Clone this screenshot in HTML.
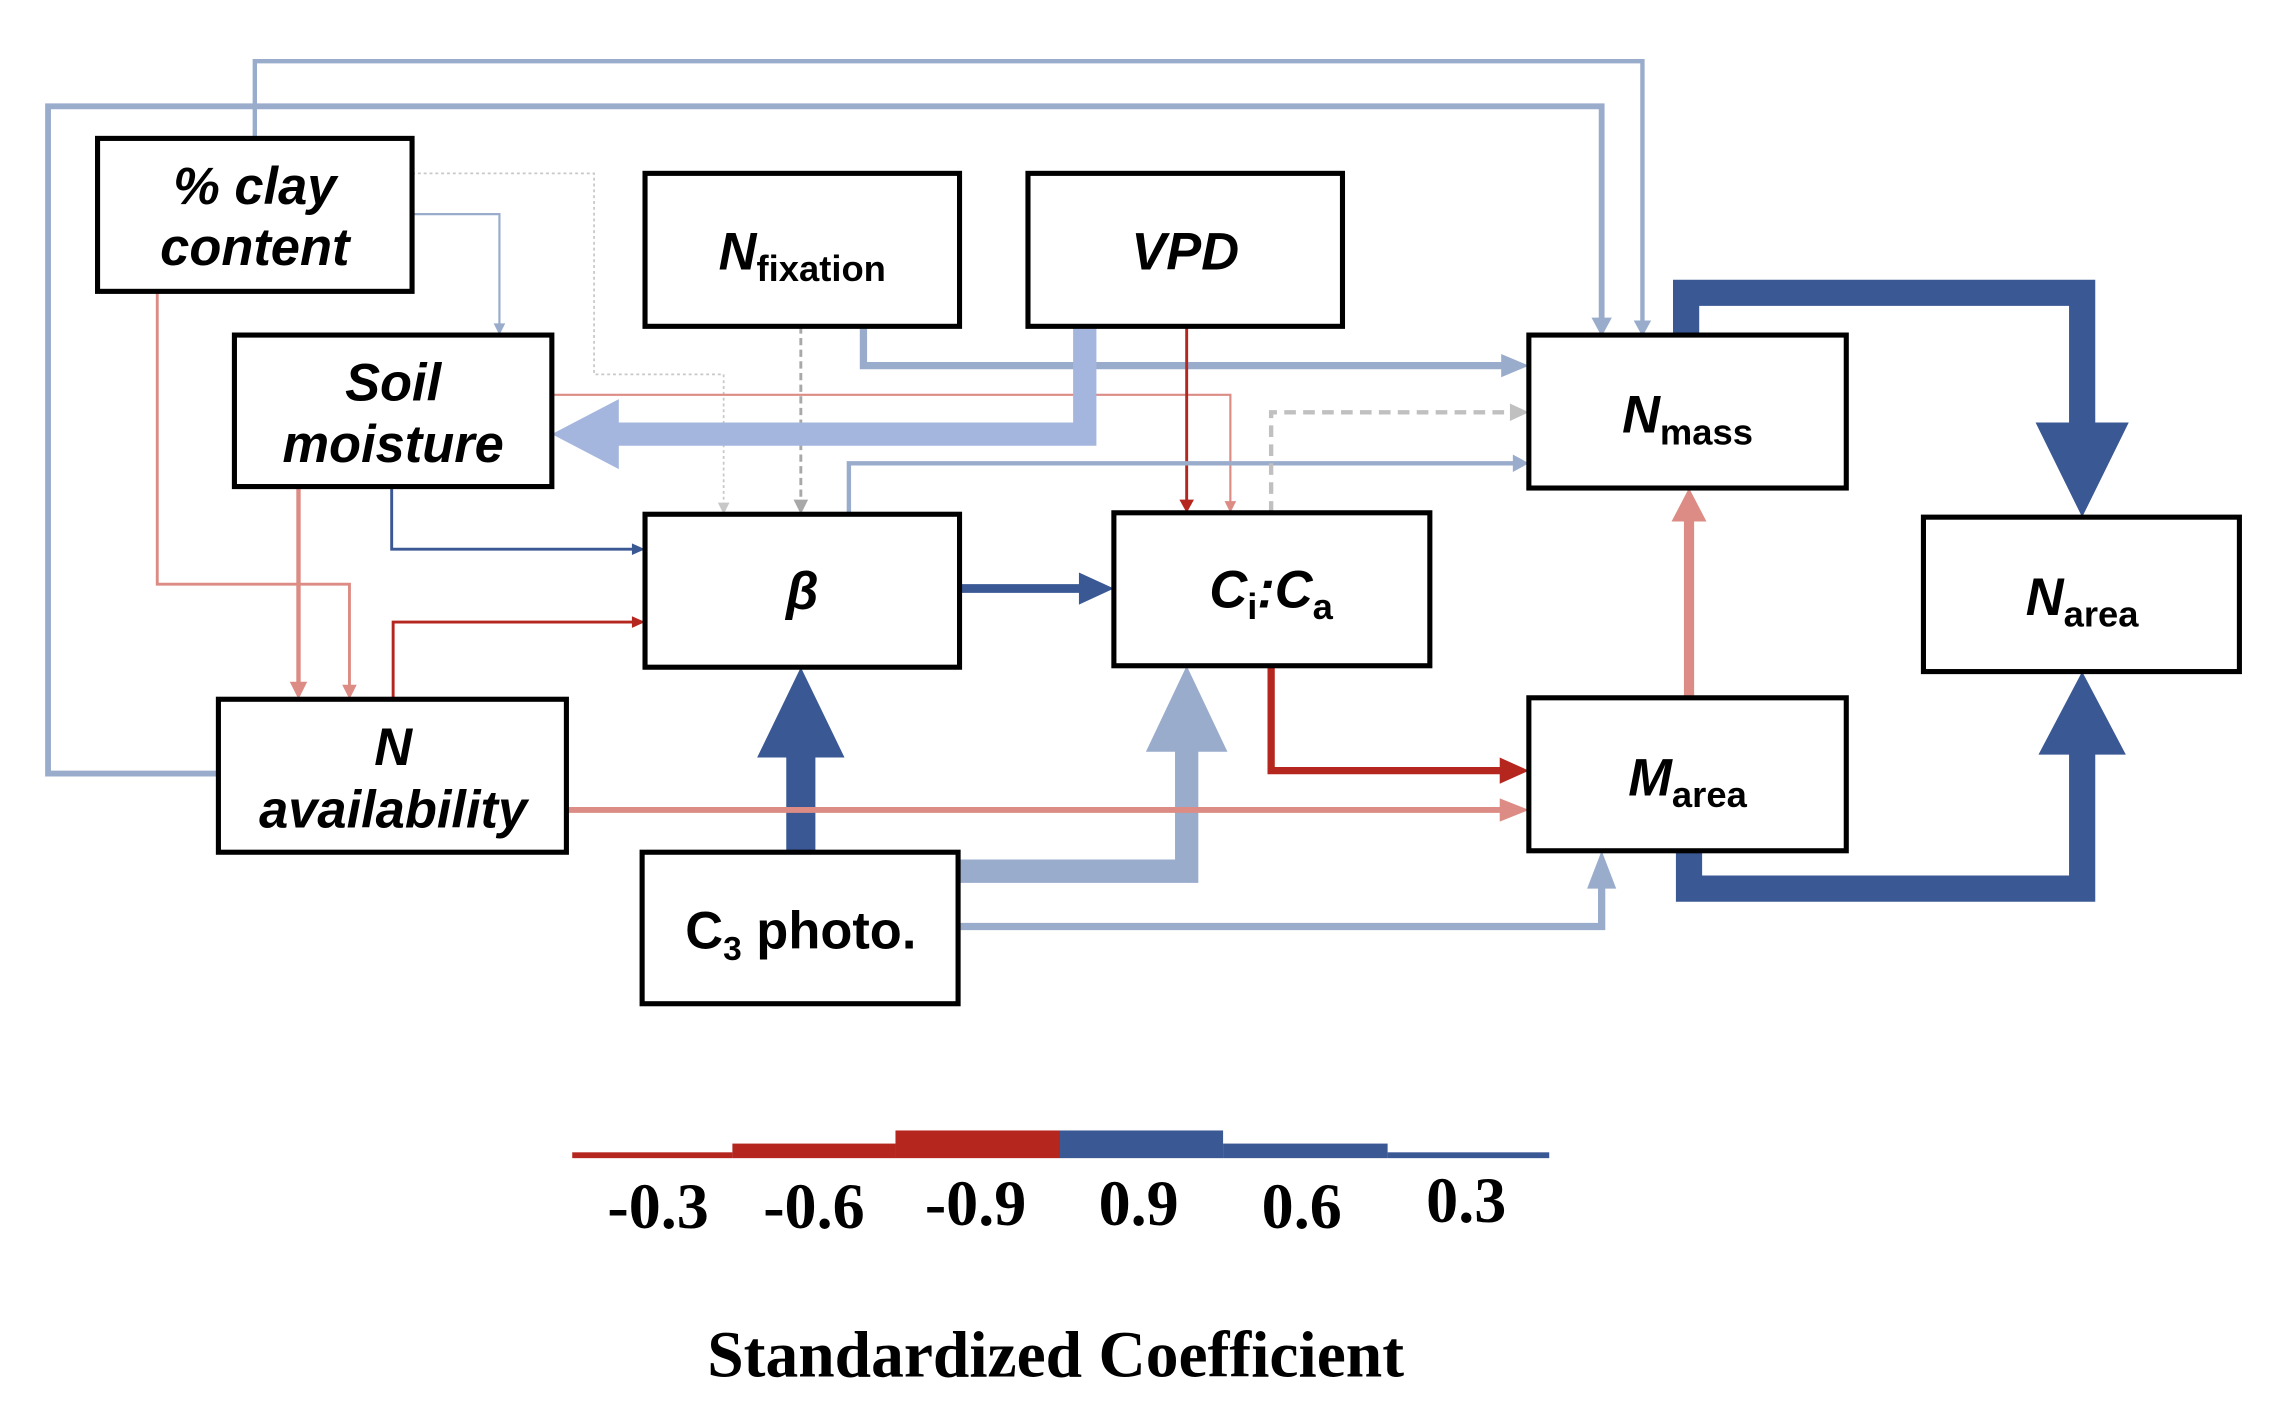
<!DOCTYPE html>
<html><head><meta charset="utf-8"><style>
html,body{margin:0;padding:0;background:#fff;}
svg{display:block;}
.bx{fill:#fff;stroke:#000;stroke-width:3.5;}
.t{font-family:"Liberation Sans",sans-serif;font-weight:bold;font-style:italic;font-size:36px;text-anchor:middle;fill:#000;}
.u{font-style:normal;font-size:25px;}
.s{font-family:"Liberation Serif",serif;font-weight:bold;font-size:44px;text-anchor:middle;fill:#000;}
</style></head><body>
<svg width="2286" height="1416" viewBox="0 0 1570 972" preserveAspectRatio="none" xmlns="http://www.w3.org/2000/svg">
<g fill="none" stroke-linejoin="miter">
<polyline points="175,95 175,42 1128,42 1128,222" stroke="#9aaccc" stroke-width="3"/>
<polygon points="1122,220 1134,220 1128,231" fill="#9aaccc" stroke="none"/>
<polyline points="150,531 33,531 33,73 1100,73 1100,220" stroke="#9aaccc" stroke-width="4"/>
<polygon points="1093,218 1107,218 1100,231" fill="#9aaccc" stroke="none"/>
<polyline points="283,147 343,147 343,224" stroke="#9aaccc" stroke-width="1.5"/>
<polygon points="339,222 347,222 343,230" fill="#9aaccc" stroke="none"/>
<polyline points="283,119 408,119 408,257 497,257 497,346" stroke="#c8c8c8" stroke-width="1.2" stroke-dasharray="2,2"/>
<polygon points="493,345 501,345 497,353" fill="#c8c8c8" stroke="none"/>
<polyline points="108,200 108,401 240,401 240,472" stroke="#dc8c84" stroke-width="2"/>
<polygon points="235,470 245,470 240,480" fill="#dc8c84" stroke="none"/>
<polyline points="205,334 205,470" stroke="#dc8c84" stroke-width="3"/>
<polygon points="199,468 211,468 205,480" fill="#dc8c84" stroke="none"/>
<polyline points="379,271 845,271 845,345" stroke="#dc8c84" stroke-width="1.5"/>
<polygon points="841,344 849,344 845,352" fill="#dc8c84" stroke="none"/>
<polyline points="269,334 269,377 435,377" stroke="#3a5894" stroke-width="2"/>
<polygon points="434,373 434,381 443,377" fill="#3a5894" stroke="none"/>
<polyline points="270,480 270,427 435,427" stroke="#b5261e" stroke-width="2"/>
<polygon points="434,423 434,431 443,427" fill="#b5261e" stroke="none"/>
<polyline points="550,224 550,344" stroke="#a8a8a8" stroke-width="2" stroke-dasharray="5,3"/>
<polygon points="545,343 555,343 550,353" fill="#a8a8a8" stroke="none"/>
<polyline points="593,224 593,251 1033,251" stroke="#9aaccc" stroke-width="5"/>
<polygon points="1031,243 1031,259 1050,251" fill="#9aaccc" stroke="none"/>
<polyline points="745,224 745,298 420,298" stroke="#a5b6de" stroke-width="16"/>
<polygon points="425,274 425,322 379,298" fill="#a5b6de" stroke="none"/>
<polyline points="815,224 815,344" stroke="#b5261e" stroke-width="2"/>
<polygon points="810,343 820,343 815,352" fill="#b5261e" stroke="none"/>
<polyline points="583,353 583,318 1040,318" stroke="#9aaccc" stroke-width="3"/>
<polygon points="1039,312 1039,324 1050,318" fill="#9aaccc" stroke="none"/>
<polyline points="873,352 873,283 1038,283" stroke="#c0c0c0" stroke-width="3" stroke-dasharray="8,5"/>
<polygon points="1037,277 1037,289 1050,283" fill="#c0c0c0" stroke="none"/>
<polyline points="659,404 745,404" stroke="#3a5894" stroke-width="6"/>
<polygon points="741,393 741,415 765,404" fill="#3a5894" stroke="none"/>
<polyline points="550,585 550,515" stroke="#3a5894" stroke-width="20"/>
<polygon points="520,520 580,520 550,458" fill="#3a5894" stroke="none"/>
<polyline points="658,598 815,598 815,510" stroke="#9aaccc" stroke-width="16"/>
<polygon points="787,516 843,516 815,457" fill="#9aaccc" stroke="none"/>
<polyline points="658,636 1100,636 1100,605" stroke="#9aaccc" stroke-width="5"/>
<polygon points="1090,610 1110,610 1100,584" fill="#9aaccc" stroke="none"/>
<polyline points="873,457 873,529 1032,529" stroke="#b5261e" stroke-width="5"/>
<polygon points="1030,520 1030,538 1050,529" fill="#b5261e" stroke="none"/>
<polyline points="389,556 1032,556" stroke="#dc8c84" stroke-width="4"/>
<polygon points="1030,548 1030,564 1050,556" fill="#dc8c84" stroke="none"/>
<polyline points="1160,479 1160,355" stroke="#dc8c84" stroke-width="7"/>
<polygon points="1148,358 1172,358 1160,335" fill="#dc8c84" stroke="none"/>
<polyline points="1158,230 1158,201 1430,201 1430,292" stroke="#3a5894" stroke-width="18"/>
<polygon points="1398,290 1462,290 1430,355" fill="#3a5894" stroke="none"/>
<polyline points="1160,584 1160,610 1430,610 1430,512" stroke="#3a5894" stroke-width="18"/>
<polygon points="1400,518 1460,518 1430,461" fill="#3a5894" stroke="none"/>
</g>
<rect class="bx" x="67" y="95" width="216" height="105"/>
<rect class="bx" x="161" y="230" width="218" height="104"/>
<rect class="bx" x="443" y="119" width="216" height="105"/>
<rect class="bx" x="706" y="119" width="216" height="105"/>
<rect class="bx" x="1050" y="230" width="218" height="105"/>
<rect class="bx" x="443" y="353" width="216" height="105"/>
<rect class="bx" x="765" y="352" width="217" height="105"/>
<rect class="bx" x="1321" y="355" width="217" height="106"/>
<rect class="bx" x="150" y="480" width="239" height="105"/>
<rect class="bx" x="1050" y="479" width="218" height="105"/>
<rect class="bx" x="441" y="585" width="217" height="104"/>
<text class="t" x="175" y="140">% clay</text>
<text class="t" x="175" y="182">content</text>
<text class="t" x="270" y="275">Soil</text>
<text class="t" x="270" y="317">moisture</text>
<text class="t" x="551" y="185">N<tspan class="u" dy="8">fixation</tspan></text>
<text class="t" x="814" y="185">VPD</text>
<text class="t" x="1159" y="297">N<tspan class="u" dy="8">mass</tspan></text>
<text class="t" x="551" y="418">β</text>
<text class="t" x="873" y="417">C<tspan class="u" dy="8">i</tspan><tspan dy="-8">:C</tspan><tspan class="u" dy="8">a</tspan></text>
<text class="t" x="1430" y="422">N<tspan class="u" dy="8">area</tspan></text>
<text class="t" x="270" y="525">N</text>
<text class="t" x="270" y="568">availability</text>
<text class="t" x="1159" y="546">M<tspan class="u" dy="8">area</tspan></text>
<text class="t" x="550" y="651" style="font-style:normal">C<tspan style="font-size:23px" dy="8">3</tspan><tspan dy="-8"> photo.</tspan></text>
<rect x="393" y="791" width="110" height="4" fill="#b5261e"/>
<rect x="503" y="785" width="112" height="10" fill="#b5261e"/>
<rect x="615" y="776" width="113" height="19" fill="#b5261e"/>
<rect x="728" y="776" width="112" height="19" fill="#3a5894"/>
<rect x="840" y="785" width="113" height="10" fill="#3a5894"/>
<rect x="953" y="791" width="111" height="4" fill="#3a5894"/>
<text class="s" x="452" y="843">-0.3</text>
<text class="s" x="559" y="843">-0.6</text>
<text class="s" x="670" y="841">-0.9</text>
<text class="s" x="782" y="841">0.9</text>
<text class="s" x="894" y="843">0.6</text>
<text class="s" x="1007" y="839">0.3</text>
<text class="s" x="725" y="945" style="font-size:45px">Standardized Coefficient</text>
</svg>
</body></html>
